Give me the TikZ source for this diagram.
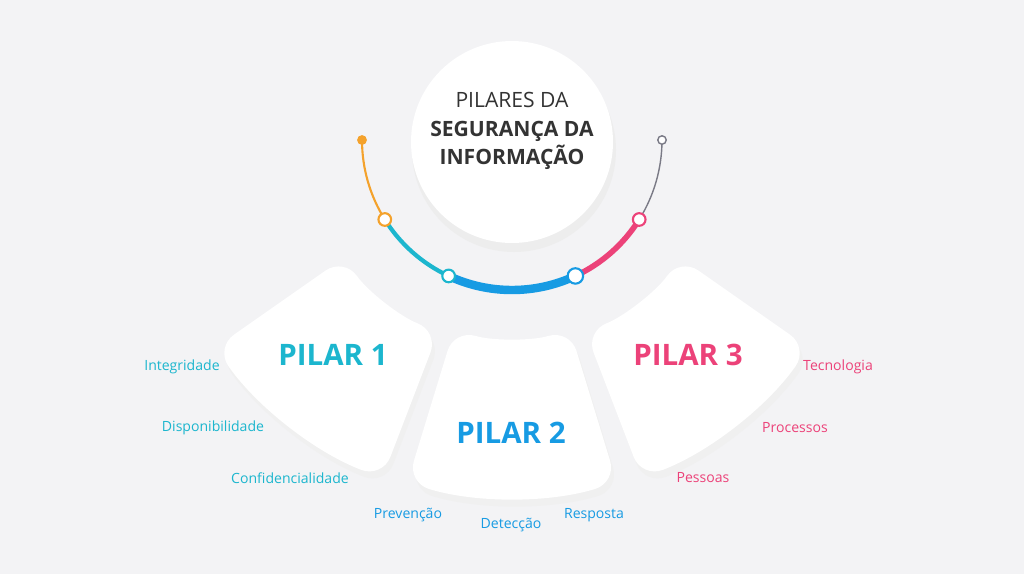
\documentclass[tikz,border=0pt]{standalone}
\usepackage{fontspec}
\setmainfont{Open Sans}
\begin{document}
\definecolor{bg}{HTML}{F3F3F5}
\definecolor{cteal}{HTML}{1CB6CE}
\definecolor{cblue}{HTML}{179BE3}
\definecolor{cpink}{HTML}{EC4279}
\definecolor{corange}{HTML}{F4A22C}
\definecolor{cgray}{HTML}{7A7A86}
\definecolor{ctitle}{HTML}{333333}
\begin{tikzpicture}[x=0.025cm,y=-0.025cm,
  sector/.style={fill=white,rounded corners=16},
  shadow/.style={fill=black!6,rounded corners=16},
  lab/.style={font=\fontsize{10}{12}\selectfont},
  pil/.style={font=\fontsize{21}{26}\selectfont\bfseries},
  dot/.style={circle,draw,line width=1.5pt,fill=white,inner sep=0pt,minimum size=9pt}]
\fill[bg] (0,0) rectangle (1024,574);
\coordinate (C) at (512,140);
% sectors
\foreach \a/\b/\ri/\ro in {111/145/205/362,73/107/198/358,35/69/205/362}{
  \fill[shadow,shift={(3,7)}] ([shift={(C)}]\a:\ri) arc[start angle=\a,end angle=\b,radius=\ri] -- ([shift={(C)}]\b:\ro) arc[start angle=\b,end angle=\a,radius=\ro] -- cycle;
  \fill[sector] ([shift={(C)}]\a:\ri) arc[start angle=\a,end angle=\b,radius=\ri] -- ([shift={(C)}]\b:\ro) arc[start angle=\b,end angle=\a,radius=\ro] -- cycle;
}
% ring arcs
\draw[corange,line width=1.5pt] ([shift={(C)}]180:150) arc[start angle=180,end angle=148,radius=150];
\draw[cteal,line width=3pt] ([shift={(C)}]148:150) arc[start angle=148,end angle=115,radius=150];
\draw[cblue,line width=6pt] ([shift={(C)}]115:150) arc[start angle=115,end angle=65,radius=150];
\draw[cpink,line width=4pt] ([shift={(C)}]65:150) arc[start angle=65,end angle=32,radius=150];
\draw[cgray,line width=1pt] ([shift={(C)}]32:150) arc[start angle=32,end angle=0,radius=150];
\node[circle,fill=corange,inner sep=0pt,minimum size=7pt] (e1) at ([shift={(C)}]180:150) {};
\node[circle,draw=cgray,fill=white,line width=1pt,inner sep=0pt,minimum size=6pt] (e2) at ([shift={(C)}]0:150) {};
\node[dot,draw=corange] (d1) at ([shift={(C)}]148:150) {};
\node[dot,draw=cteal] (d2) at ([shift={(C)}]115:150) {};
\node[dot,draw=cblue,minimum size=11pt] (d3) at ([shift={(C)}]65:150) {};
\node[dot,draw=cpink] (d4) at ([shift={(C)}]32:150) {};
% title circle
\fill[black!7] (514,150) circle (102);
\node[circle,fill=white,minimum size=202*0.025cm,inner sep=0pt] (title) at (512,142) {};
\node[align=center,text=ctitle,font=\fontsize{15}{20}\selectfont] (tt) at (512,131)
 {PILARES DA\\\textbf{SEGURANÇA DA}\\\textbf{INFORMAÇÃO}};
% pillar labels
\node[pil,text=cteal] (p1) at (333,355) {PILAR 1};
\node[pil,text=cblue] (p2) at (511,433) {PILAR 2};
\node[pil,text=cpink] (p3) at (688,355) {PILAR 3};
\node[lab,text=cteal] (l1) at (182,367) {Integridade};
\node[lab,text=cteal] (l2) at (213,428) {Disponibilidade};
\node[lab,text=cteal] (l3) at (290,478) {Confidencialidade};
\node[lab,text=cblue] (l4) at (408,515) {Prevenção};
\node[lab,text=cblue] (l5) at (511,525) {Detecção};
\node[lab,text=cblue] (l6) at (594,515) {Resposta};
\node[lab,text=cpink] (l7) at (838,367) {Tecnologia};
\node[lab,text=cpink] (l8) at (795,428) {Processos};
\node[lab,text=cpink] (l9) at (703,478) {Pessoas};
\end{tikzpicture}
\end{document}
